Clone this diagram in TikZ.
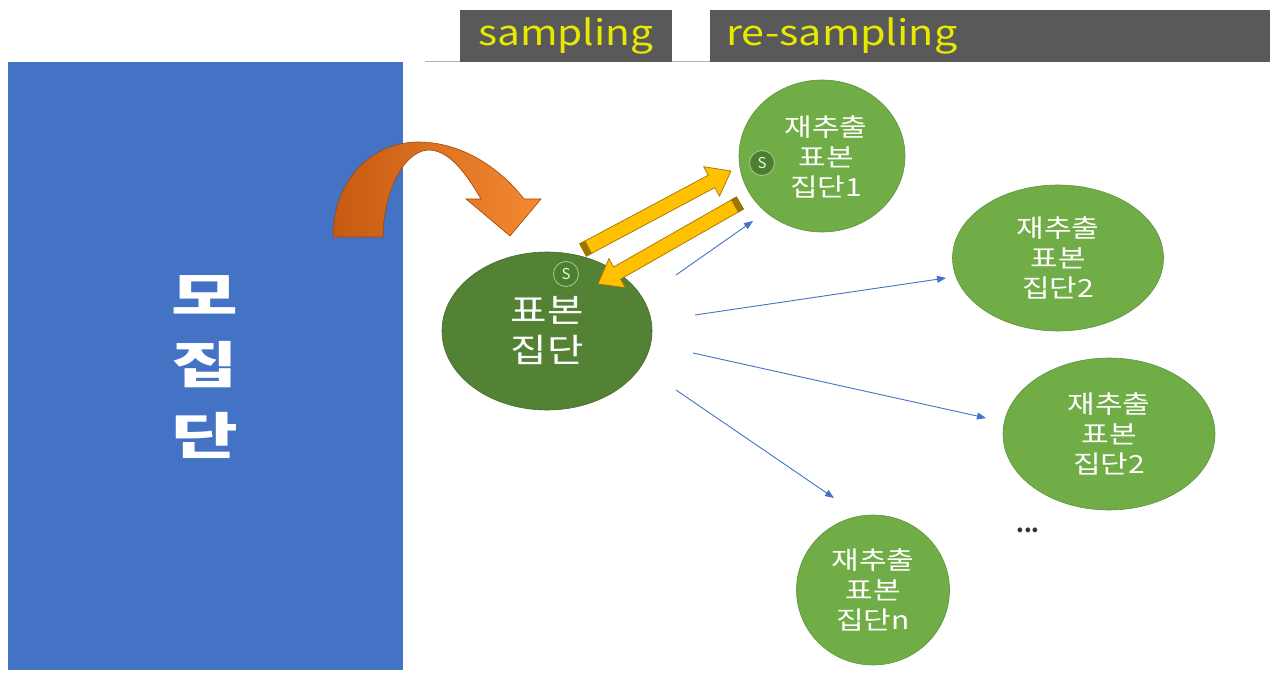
\documentclass[tikz,border=0pt]{standalone}
\usepackage{fontspec}
\setmainfont{Noto Sans CJK KR}
\newfontfamily\kr{Noto Sans CJK KR}
\usetikzlibrary{shapes.geometric,arrows.meta}
\definecolor{popblue}{HTML}{4472C4}
\definecolor{tabgray}{HTML}{595959}
\definecolor{tabyellow}{HTML}{E8E800}
\definecolor{darkgreen}{HTML}{548235}
\definecolor{lightgreen}{HTML}{70AD47}
\definecolor{sgreen}{HTML}{4E7E30}
\definecolor{orangeL}{HTML}{F58A32}
\definecolor{orangeD}{HTML}{C55A11}
\definecolor{goldY}{HTML}{FFC000}
\definecolor{goldD}{HTML}{A07400}
\newcommand{\widetxt}[2][1.2]{\scalebox{#1}[1]{#2}}
\tikzset{
  sample/.style={ellipse, fill=darkgreen, draw=darkgreen!80!black, line width=0.6pt, text=white, align=center, font=\kr\fontsize{33}{40}\selectfont},
  resample/.style={ellipse, fill=lightgreen, draw=lightgreen!85!black, line width=0.6pt, text=white, align=center, font=\kr\fontsize{25}{30}\selectfont},
  smallS/.style={circle, fill=sgreen, draw=lightgreen!60!white, line width=0.8pt, minimum size=25pt, inner sep=0pt, text=white!85!green, font=\kr\fontsize{15}{15}\selectfont},
  thin arrow/.style={draw=popblue, line width=0.9pt, -{Triangle[length=9pt,width=7pt]}},
  yellowbody/.style={fill=goldY, draw=goldD, line width=0.7pt, line join=miter},
  yellowcap/.style={fill=goldD, draw=goldD, line width=0.5pt},
  bigtext/.style={text=white, font=\kr\bfseries\fontsize{50}{50}\selectfont},
  tabtext/.style={text=tabyellow, font=\kr\fontsize{35}{38}\selectfont, anchor=west, inner sep=0pt}
}
\begin{document}
\begin{tikzpicture}[x=1pt,y=-1pt]
\useasboundingbox (0,0) rectangle (1270,674);
% population
\node[fill=popblue, minimum width=395pt, minimum height=608pt, inner sep=0pt, anchor=north west] (pop) at (8,62) {};
\node[bigtext] (p1) at (205,295) {\widetxt[1.45]{모}};
\node[bigtext] (p2) at (205,365) {\widetxt[1.45]{집}};
\node[bigtext] (p3) at (205,435) {\widetxt[1.45]{단}};
% tabs
\draw[draw=gray!60, line width=1pt] (425,62) -- (1270,62);
\fill[tabgray] (460,10) rectangle (672,62);
\fill[tabgray] (710,10) rectangle (1270,62);
\node[tabtext] (t1) at (478,36) {\widetxt[1.16]{sampling}};
\node[tabtext] (t2) at (726,36) {\widetxt[1.18]{re-sampling}};
% orange curved arrow
\path[left color=orangeD, right color=orangeL, draw=orangeD!80!black, line width=0.6pt]
  (333,237) .. controls (333,180) and (372,142) .. (418,142)
  .. controls (462,142) and (500,168) .. (524,199)
  -- (541,199) -- (510,236) -- (466,199) -- (481,199)
  .. controls (464,170) and (448,150) .. (428,150)
  .. controls (402,152) and (383,195) .. (383,237) -- cycle;
% sample
\node[sample, minimum width=210pt, minimum height=158pt] (samp) at (547,331) {\widetxt{표본}\\\widetxt{집단}};
\node[smallS] (s1) at (566,274) {S};
% resamples
\node[resample, minimum width=166pt, minimum height=152pt] (r1) at (822,156) {};
\node[smallS] (s2) at (762,163) {S};
\node[font=\kr\fontsize{25}{30}\selectfont, text=white, align=center] (r1t) at (826,157) {\widetxt{재추출}\\\widetxt{표본}\\\widetxt{집단1}};
\node[resample, minimum width=211pt, minimum height=146pt] (r2) at (1058,258) {\widetxt{재추출}\\\widetxt{표본}\\\widetxt{집단2}};
\node[resample, minimum width=212pt, minimum height=152pt] (r3) at (1109,434) {\widetxt{재추출}\\\widetxt{표본}\\\widetxt{집단2}};
\node[resample, minimum width=153pt, minimum height=150pt] (r4) at (873,590) {\widetxt{재추출}\\\widetxt{표본}\\\widetxt{집단n}};
\node[font=\kr\bfseries\fontsize{22}{22}\selectfont, text=black!80] (dots) at (1028,530) {...};
% yellow arrows
\path[yellowbody] (586.3,256.2) -- (714.9,187.6) -- (719.5,196.1) -- (731,171) -- (703.7,166.7) -- (708.3,175.2) -- (579.7,243.8) -- cycle;
\path[yellowcap] (586.3,256.2) -- (579.7,243.8) -- (585,241) -- (591.6,253.4) -- cycle;
\path[yellowbody] (743.5,209.1) -- (620.6,279.2) -- (625.4,287.7) -- (598,284) -- (608.9,258.6) -- (613.6,267.0) -- (736.5,196.9) -- cycle;
\path[yellowcap] (743.5,209.1) -- (736.5,196.9) -- (731.3,199.9) -- (738.3,212.1) -- cycle;
% blue arrows
\coordinate (a1) at (676,275); \coordinate (b1) at (753,221);
\coordinate (a2) at (695,315); \coordinate (b2) at (946,278);
\coordinate (a3) at (693,353); \coordinate (b3) at (986,418);
\coordinate (a4) at (676,390); \coordinate (b4) at (834,498);
\draw[thin arrow] (a1) -- (b1);
\draw[thin arrow] (a2) -- (b2);
\draw[thin arrow] (a3) -- (b3);
\draw[thin arrow] (a4) -- (b4);
\end{tikzpicture}
\end{document}
